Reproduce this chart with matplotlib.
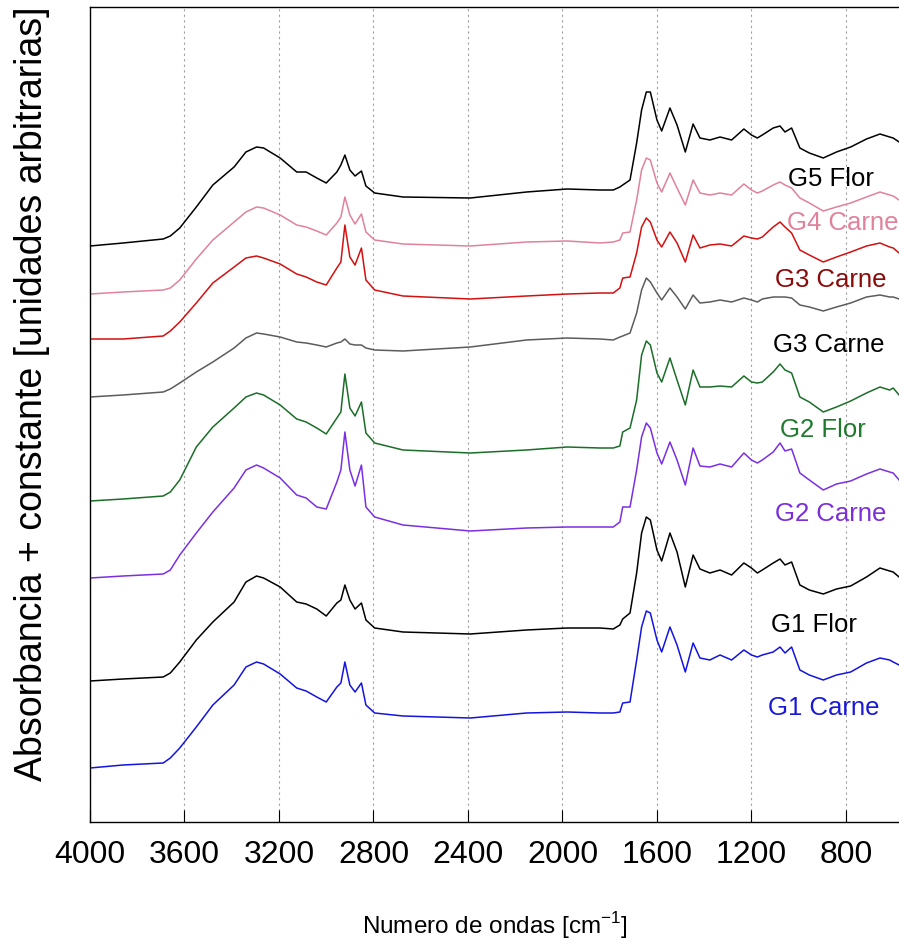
import matplotlib
matplotlib.use("Agg")
import matplotlib.pyplot as plt

plt.rcParams['font.family'] = ['Liberation Sans', 'DejaVu Sans']

# numero de ondas comun para todos los espectros (cm-1)
wavenumber = [4000, 3860, 3690, 3660, 3620, 3550, 3480, 3390, 3340, 3295,
              3265, 3195, 3125, 3085, 3040, 3000, 2955, 2938, 2921, 2900,
              2878, 2851, 2832, 2795, 2675, 2390, 2152, 1980, 1841, 1785,
              1757, 1745, 1714, 1686, 1665, 1645, 1628, 1600, 1580, 1545,
              1515, 1480, 1447, 1418, 1376, 1333, 1284, 1232, 1200, 1175,
              1154, 1108, 1079, 1058, 1030, 995, 955, 896, 840, 780,
              713, 656, 615, 600, 575]

# absorbancia + constante (de arriba a abajo)
g5_flor = [5.76, 5.79, 5.83, 5.86, 5.94, 6.15, 6.37, 6.55, 6.70, 6.75,
           6.74, 6.64, 6.50, 6.50, 6.44, 6.39, 6.50, 6.57, 6.67, 6.52,
           6.46, 6.51, 6.36, 6.29, 6.25, 6.24, 6.30, 6.33, 6.32, 6.32,
           6.35, 6.37, 6.42, 6.79, 7.12, 7.30, 7.30, 7.02, 6.91, 7.14,
           6.97, 6.70, 6.98, 6.84, 6.82, 6.85, 6.82, 6.93, 6.87, 6.84,
           6.87, 6.94, 6.96, 6.90, 6.94, 6.74, 6.69, 6.64, 6.70, 6.75,
           6.83, 6.88, 6.85, 6.84, 6.80]
g4_carne = [5.28, 5.30, 5.32, 5.34, 5.42, 5.63, 5.82, 6.00, 6.10, 6.15,
            6.14, 6.07, 5.97, 5.95, 5.91, 5.87, 5.99, 6.05, 6.25, 6.07,
            5.98, 6.08, 5.90, 5.82, 5.78, 5.76, 5.80, 5.81, 5.79, 5.80,
            5.82, 5.89, 5.90, 6.22, 6.52, 6.64, 6.62, 6.39, 6.30, 6.49,
            6.34, 6.17, 6.42, 6.29, 6.27, 6.29, 6.27, 6.38, 6.32, 6.29,
            6.31, 6.37, 6.40, 6.37, 6.34, 6.24, 6.19, 6.11, 6.15, 6.19,
            6.25, 6.30, 6.27, 6.26, 6.22]
g3_carne_a = [4.83, 4.83, 4.86, 4.91, 5.00, 5.19, 5.39, 5.55, 5.64, 5.66,
              5.64, 5.58, 5.48, 5.45, 5.40, 5.37, 5.54, 5.60, 5.97, 5.65,
              5.57, 5.74, 5.42, 5.32, 5.26, 5.23, 5.26, 5.28, 5.29, 5.29,
              5.34, 5.44, 5.45, 5.69, 5.95, 6.04, 6.00, 5.82, 5.75, 5.90,
              5.79, 5.60, 5.87, 5.74, 5.77, 5.78, 5.76, 5.86, 5.84, 5.83,
              5.85, 5.95, 6.00, 5.95, 5.89, 5.72, 5.67, 5.60, 5.65, 5.70,
              5.76, 5.79, 5.75, 5.74, 5.69]
g3_carne_b = [4.25, 4.27, 4.30, 4.33, 4.39, 4.50, 4.60, 4.74, 4.84, 4.89,
              4.88, 4.85, 4.80, 4.79, 4.77, 4.75, 4.79, 4.80, 4.83, 4.78,
              4.77, 4.77, 4.74, 4.72, 4.71, 4.75, 4.82, 4.84, 4.83, 4.82,
              4.85, 4.86, 4.89, 5.09, 5.32, 5.44, 5.40, 5.29, 5.22, 5.34,
              5.25, 5.13, 5.27, 5.19, 5.20, 5.22, 5.20, 5.24, 5.22, 5.20,
              5.23, 5.25, 5.25, 5.25, 5.24, 5.17, 5.15, 5.11, 5.15, 5.19,
              5.25, 5.27, 5.25, 5.25, 5.23]
g2_flor = [3.21, 3.23, 3.26, 3.30, 3.42, 3.75, 3.95, 4.14, 4.25, 4.29,
           4.27, 4.17, 4.03, 4.00, 3.94, 3.88, 4.04, 4.10, 4.48, 4.14,
           4.06, 4.20, 3.89, 3.79, 3.72, 3.69, 3.72, 3.75, 3.74, 3.74,
           3.76, 3.90, 3.94, 4.22, 4.67, 4.81, 4.77, 4.49, 4.40, 4.64,
           4.42, 4.17, 4.52, 4.35, 4.35, 4.36, 4.35, 4.46, 4.40, 4.39,
           4.40, 4.50, 4.58, 4.52, 4.49, 4.25, 4.20, 4.10, 4.15, 4.21,
           4.29, 4.35, 4.32, 4.34, 4.27]
g2_carne = [2.44, 2.46, 2.48, 2.52, 2.67, 2.89, 3.10, 3.34, 3.52, 3.57,
            3.54, 3.44, 3.27, 3.24, 3.15, 3.13, 3.40, 3.52, 3.90, 3.52,
            3.36, 3.57, 3.15, 3.05, 2.97, 2.91, 2.94, 2.95, 2.95, 2.95,
            3.00, 3.15, 3.15, 3.52, 3.85, 3.99, 3.94, 3.69, 3.58, 3.80,
            3.62, 3.37, 3.74, 3.56, 3.55, 3.58, 3.55, 3.69, 3.62, 3.59,
            3.62, 3.70, 3.79, 3.71, 3.73, 3.49, 3.42, 3.32, 3.38, 3.41,
            3.48, 3.53, 3.50, 3.49, 3.42]
g1_flor = [1.41, 1.43, 1.45, 1.49, 1.60, 1.82, 2.00, 2.20, 2.40, 2.46,
           2.44, 2.35, 2.20, 2.18, 2.13, 2.06, 2.19, 2.22, 2.37, 2.22,
           2.13, 2.19, 2.02, 1.94, 1.90, 1.88, 1.92, 1.94, 1.94, 1.93,
           1.97, 2.03, 2.09, 2.49, 2.89, 3.05, 3.02, 2.72, 2.61, 2.89,
           2.70, 2.35, 2.67, 2.53, 2.49, 2.52, 2.47, 2.59, 2.54, 2.49,
           2.52, 2.59, 2.63, 2.57, 2.60, 2.37, 2.32, 2.28, 2.33, 2.36,
           2.45, 2.54, 2.51, 2.50, 2.45]
g1_carne = [0.54, 0.57, 0.59, 0.64, 0.74, 0.95, 1.17, 1.37, 1.55, 1.60,
            1.58, 1.48, 1.34, 1.31, 1.25, 1.20, 1.35, 1.39, 1.60, 1.37,
            1.30, 1.39, 1.17, 1.09, 1.06, 1.04, 1.09, 1.10, 1.09, 1.09,
            1.10, 1.19, 1.20, 1.62, 1.95, 2.11, 2.09, 1.82, 1.70, 1.95,
            1.77, 1.50, 1.79, 1.64, 1.62, 1.67, 1.62, 1.72, 1.67, 1.65,
            1.67, 1.70, 1.75, 1.69, 1.75, 1.52, 1.47, 1.42, 1.47, 1.50,
            1.59, 1.64, 1.62, 1.60, 1.57]

spectra = [g5_flor, g4_carne, g3_carne_a, g3_carne_b,
           g2_flor, g2_carne, g1_flor, g1_carne]
line_colors = ['#000000', '#E0829C', '#D41010', '#5C5C5C',
               '#1B6E28', '#7B2FE3', '#000000', '#1414E0']

labels = ['G5 Flor', 'G4 Carne', 'G3 Carne', 'G3 Carne',
          'G2 Flor', 'G2 Carne', 'G1 Flor', 'G1 Carne']
label_colors = ['#000000', '#E0829C', '#8B0A0A', '#000000',
                '#1F7A2E', '#7B2FD9', '#000000', '#1A1AD6']
label_x = [1045, 1050, 1100, 1109, 1079, 1100, 1117, 1130]
label_y = [6.43, 5.99, 5.42, 4.77, 3.92, 3.08, 1.97, 1.14]

grid_ticks = [3600, 3200, 2800, 2400, 2000, 1600, 1200, 800]

fig = plt.figure(figsize=(8.99, 9.49), dpi=100)
ax = fig.add_axes([90 / 899, 1 - 822 / 949, 815 / 899, 815 / 949])

# lineas verticales punteadas
for w in grid_ticks:
    ax.axvline(w, color='#A0A0A0', lw=0.8, ls=(0, (2, 3)), zorder=0)

for values, color in zip(spectra, line_colors):
    ax.plot(wavenumber, values, color=color, lw=1.1)

for text, color, x, y in zip(labels, label_colors, label_x, label_y):
    ax.text(x, y, text, color=color, fontsize=18.5, ha='left', va='center')

ax.set_xlim(4000, 550)
ax.set_ylim(0, 8.15)
ax.set_xticks([4000] + grid_ticks)
ax.set_yticks([])
ax.tick_params(axis='x', direction='in', length=9, width=0.8,
               labelsize=23, pad=13)
for spine in ax.spines.values():
    spine.set_linewidth(1.0)

ax.set_xlabel('Numero de ondas [cm$^{\\mathregular{-1}}$]', fontsize=17.5)
ax.xaxis.set_label_coords(0.497, -0.108)
ax.set_ylabel('Absorbancia + constante [unidades arbitrarias]',
              fontsize=27)
ax.yaxis.set_label_coords(-0.049, 0.526)

fig.savefig('out.png', dpi=100)
